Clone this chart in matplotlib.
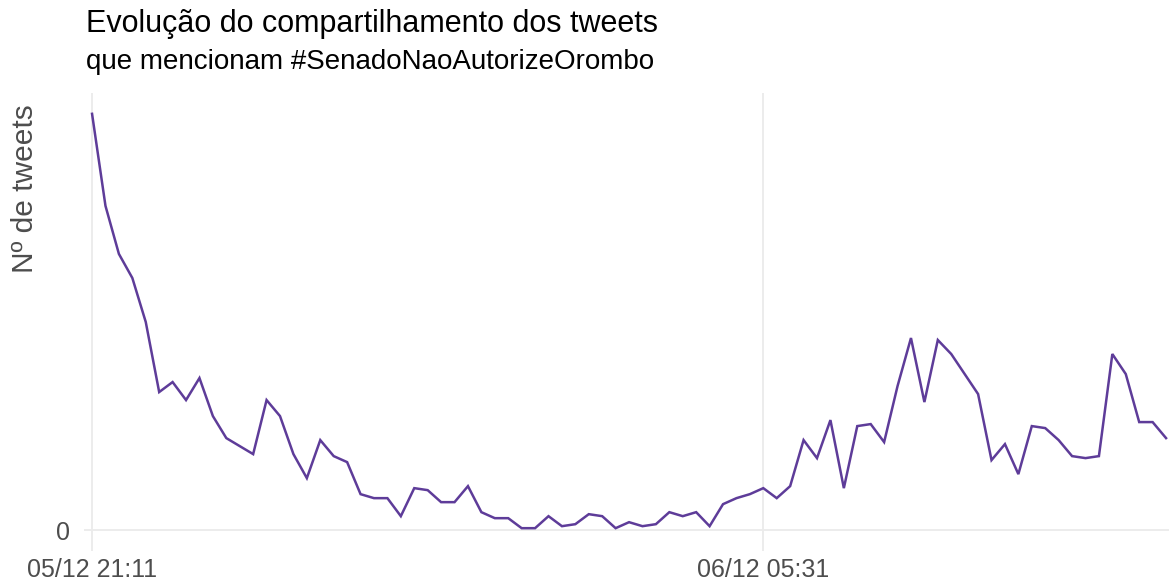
import matplotlib
matplotlib.use("Agg")
import matplotlib.pyplot as plt
import matplotlib.dates as mdates
import pandas as pd

title = "Evolução do compartilhamento dos tweets"
subtitle = "que mencionam #SenadoNaoAutorizeOrombo"
ylabel = "Nº de tweets"

start = "2017-12-05 21:11"
freq = "10min"
counts = [208, 162, 138, 126, 104, 69, 74, 65, 76, 57,
          46, 42, 38, 65, 57, 38, 26, 45, 37, 34,
          18, 16, 16, 7, 21, 20, 14, 14, 22, 9,
          6, 6, 1, 1, 7, 2, 3, 8, 7, 1,
          4, 2, 3, 9, 7, 9, 2, 13, 16, 18,
          21, 16, 22, 45, 36, 55, 21, 52, 53, 44,
          72, 96, 64, 95, 88, 78, 68, 35, 43, 28,
          52, 51, 45, 37, 36, 37, 88, 78, 54, 54, 46]
tick_times = ["2017-12-05 21:11", "2017-12-06 05:31"]
tick_labels = ["05/12 21:11", "06/12 05:31"]
y_ticks = [0]
y_tick_labels = ["0"]

times = pd.date_range(start=start, periods=len(counts), freq=freq)

plt.rcParams['font.family'] = ['Liberation Sans', 'DejaVu Sans']

fig = plt.figure(figsize=(11.69, 5.88), dpi=100)
W, H = 1169, 588
ax = fig.add_axes([84 / W, 1 - 551 / H, (1169 - 84) / W, (551 - 93) / H])

ax.plot(times, counts, color="#5e3c99", linewidth=1.8, solid_joinstyle="miter")

x0 = mdates.date2num(times[0])
x1 = mdates.date2num(times[-1])
step = (x1 - x0) / (len(counts) - 1)
ax.set_xlim(x0 - 0.6 * step, x1 + 0.22 * step)
ymax = max(counts)
ax.set_ylim(-0.05 * ymax, 1.05 * ymax)

ax.set_xticks(mdates.date2num(pd.to_datetime(tick_times)))
ax.set_xticklabels(tick_labels)
ax.set_yticks(y_ticks)
ax.set_yticklabels(y_tick_labels)

for s in ax.spines.values():
    s.set_visible(False)
ax.grid(True, color="#ebebeb", linewidth=1.3)
ax.set_axisbelow(True)
ax.tick_params(axis="both", length=0, labelsize=18, labelcolor="#4d4d4d")
ax.tick_params(axis="x", pad=5)
ax.tick_params(axis="y", pad=10)

fig.text(25 / W, 1 - 189 / H, ylabel, fontsize=21.5, color="#4d4d4d",
         rotation=90, va="center", ha="center")

fig.text(86 / W, 1 - 32 / H, title, fontsize=22, color="black", va="baseline", ha="left")
fig.text(86 / W, 1 - 69 / H, subtitle, fontsize=20, color="black", va="baseline", ha="left")

fig.savefig("out.png", dpi=100, facecolor="white")
